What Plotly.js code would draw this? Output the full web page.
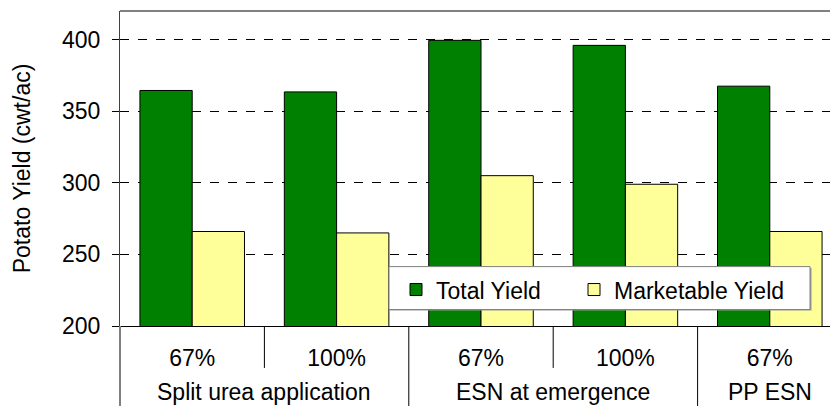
<!DOCTYPE html>
<html>
<head>
<meta charset="utf-8">
<script src="https://cdn.plot.ly/plotly-3.0.1.min.js"></script>
<style>
html,body{margin:0;padding:0;overflow:hidden;background:#fff;width:830px;height:406px;}
#chart{width:850px;height:406px;}
</style>
</head>
<body>
<div id="chart"></div>
<script>
const groups = ["Split urea application","Split urea application","ESN at emergence","ESN at emergence","PP ESN"];
const rates = ["67%","100%","67%","100%","67%"];
const totalYield = [364.5, 363.5, 399.5, 396, 367.5];
const marketableYield = [266, 265, 305, 299, 266];
const yTicks = [200, 250, 300, 350, 400];

const FONT = "Liberation Sans, Arial, sans-serif";
const FS = 23;
const idx = rates.map((_, i) => i);

const traces = [
  {
    type: "bar", name: "Total Yield", legend: "legend",
    x: idx, y: totalYield,
    marker: {color: "#008000", line: {color: "#000", width: 1}}
  },
  {
    type: "bar", name: "Marketable Yield", legend: "legend2",
    x: idx, y: marketableYield,
    marker: {color: "#FFFF99", line: {color: "#000", width: 1}}
  }
];

// plot geometry: plot from x=120px to 842px, y=326px (0) to 10.5px (1)
const PW = 722;
const PH = 406 - 80 - 10.5;
const px = v => (v - 120) / PW;
const py = v => (326 - v) / PH;

const shapes = [
  {type: "line", xref: "paper", yref: "paper", x0: 0, x1: 1, y0: 1, y1: 1, line: {color: "#808080", width: 2}},
  {type: "line", xref: "paper", yref: "paper", x0: 0, x1: 0, y0: 0, y1: py(410), line: {color: "#808080", width: 2}},
  // legend box with slight shadow
  {type: "rect", xref: "paper", yref: "paper", layer: "above",
   x0: px(390), x1: px(811.5), y0: py(310.5), y1: py(268),
   fillcolor: "#9a9a9a", line: {width: 0}},
  {type: "rect", xref: "paper", yref: "paper", layer: "above",
   x0: px(389), x1: px(810), y0: py(309.5), y1: py(266.5),
   fillcolor: "#fff", line: {color: "#808080", width: 1}}
];
// category dividers below the axis
for (let i = 0; i < idx.length - 1; i++) {
  const full = groups[i] !== groups[i + 1];
  shapes.push({type: "line", xref: "x", yref: "paper", x0: i + 0.5, x1: i + 0.5,
    y0: 0, y1: full ? py(410) : py(368), line: {color: "#000", width: 1}});
}

// group labels
const annotations = [];
const uniq = [...new Set(groups)];
uniq.forEach(g => {
  const members = idx.filter(i => groups[i] === g);
  const xc = members.reduce((a, b) => a + b, 0) / members.length;
  annotations.push({xref: "x", yref: "paper", x: xc, y: py(392), yanchor: "middle", xanchor: "center",
    text: g, showarrow: false, font: {family: FONT, size: FS, color: "#000"}});
});

const legendBase = {
  orientation: "h", xanchor: "left", yanchor: "top", y: py(268),
  bgcolor: "rgba(0,0,0,0)", borderwidth: 0,
  font: {family: FONT, size: FS, color: "#000"}
};

const layout = {
  width: 850, height: 406,
  margin: {l: 120, r: 8, t: 10.5, b: 80, autoexpand: false},
  paper_bgcolor: "#fff", plot_bgcolor: "#fff",
  font: {family: FONT, size: FS, color: "#000"},
  barmode: "group", bargap: 0.276, bargroupgap: 0,
  showlegend: true,
  legend: Object.assign({}, legendBase, {x: px(396)}),
  legend2: Object.assign({}, legendBase, {x: px(574)}),
  xaxis: {
    type: "linear", range: [-0.5, 4.5],
    tickvals: idx, ticktext: rates,
    showline: true, linecolor: "#000", linewidth: 1,
    ticks: "", ticklabelstandoff: 11,
    showgrid: false, zeroline: false,
    tickfont: {family: FONT, size: FS, color: "#000"}
  },
  yaxis: {
    range: [200, 420],
    tickvals: yTicks,
    ticktext: yTicks.map(String),
    ticks: "outside", ticklen: 7, tickcolor: "#000",
    ticklabelstandoff: 7,
    showline: true, linecolor: "#404040", linewidth: 1,
    showgrid: true, gridcolor: "#000", gridwidth: 1, griddash: "dash",
    zeroline: false,
    tickfont: {family: FONT, size: FS, color: "#000"},
    title: {text: "Potato Yield (cwt/ac)", font: {family: FONT, size: FS, color: "#000"}, standoff: 24}
  },
  shapes: shapes,
  annotations: annotations
};

Plotly.newPlot("chart", traces, layout, {displayModeBar: false, staticPlot: true});
</script>
</body>
</html>
